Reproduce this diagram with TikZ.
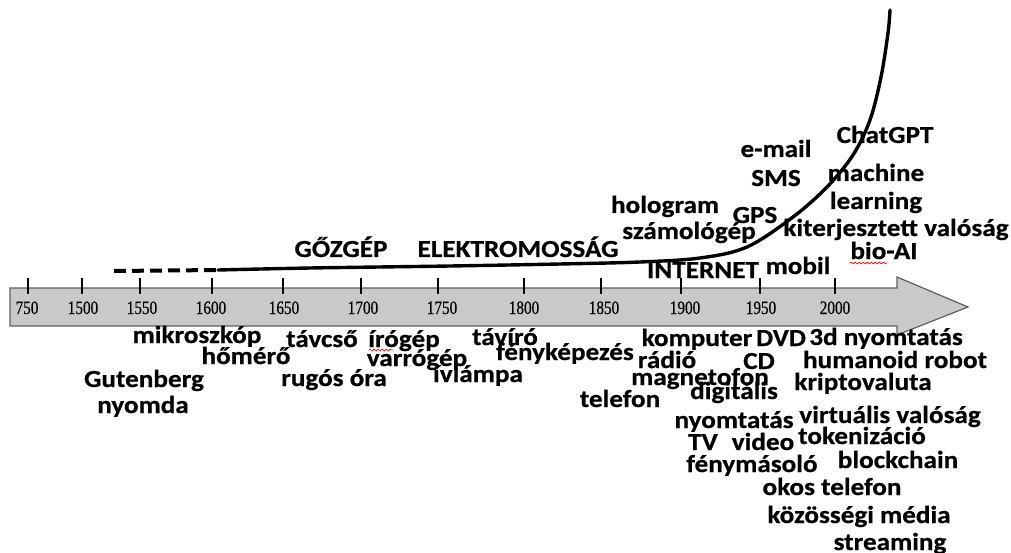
\documentclass[tikz,border=0pt]{standalone}
\usepackage{fontspec}
\setmainfont{Carlito}[FakeStretch=1.11, BoldFeatures={FakeBold=0.6}]
\newfontfamily\yrfont{Liberation Serif}[FakeStretch=0.8, FakeBold=0.4]
\usetikzlibrary{decorations.pathmorphing}
\definecolor{bodygray}{RGB}{201,201,201}
\definecolor{edgegray}{RGB}{95,95,95}
\tikzset{
  lbl/.style={font=\bfseries\fontsize{24.5}{25}\selectfont, inner sep=0pt, anchor=base},
  yr/.style={font=\yrfont\fontsize{19}{20}\selectfont, inner sep=0pt, anchor=base},
  tickmark/.style={line width=2pt},
  growth/.style={line width=3.4pt},
  squiggle/.style={red, line width=0.7pt, decorate, decoration={snake, amplitude=0.9pt, segment length=4pt}}
}
\begin{document}
\begin{tikzpicture}[x=1pt,y=-1pt]
\useasboundingbox (0,0) rectangle (1011,553);
% timeline arrow
\draw[fill=bodygray, draw=edgegray, line width=1.2pt, line join=miter]
  (10,288) -- (897,288) -- (897,277) -- (968,307) -- (897,335) -- (897,326) -- (10,326) -- cycle;
% ticks
\foreach \tx in {28,82,140,212,283,361,438,524,601,681,760,835}
  \draw[tickmark] (\tx,278) -- (\tx,294);
% years
\foreach \lx/\yy in {27/750,83/1500,142/1550,211/1600,284/1650,363/1700,442/1750,524/1800,604/1850,685/1900,761/1950,835/2000}
  \node[yr] (y\yy) at (\lx,314) {\yy};
% growth curve
\draw[line width=4pt, dash pattern=on 12pt off 6pt] (114,271) -- (218,270);
\draw[growth, line cap=round] plot[smooth, tension=0.55] coordinates {
  (218,270) (310,268) (450,266) (560,264) (640,262) (700,258) (747,247)
  (793,217) (827,187) (853,155) (870,120) (881,77) (888,33) (890,10)};
% upper labels
\node[lbl] (gozgep) at (341,257) {GŐZGÉP};
\node[lbl] (elektro) at (518,257) {ELEKTROMOSSÁG};
\node[lbl] (hologram) at (665,213) {hologram};
\node[lbl] (szamologep) at (689,239) {számológép};
\node[lbl] (gps) at (755,223) {GPS};
\node[lbl] (email) at (776,157) {e-mail};
\node[lbl] (sms) at (776,186) {SMS};
\node[lbl] (chatgpt) at (885,143) {ChatGPT};
\node[lbl] (machine) at (876,181) {machine};
\node[lbl] (learning) at (876,209) {learning};
\node[lbl] (kiterj) at (896,236) {kiterjesztett valóság};
\node[lbl] (bioai) at (884,259) {bio-AI};
\node[lbl] (internet) at (703,278) {INTERNET};
\node[lbl] (mobil) at (798,274) {mobil};
% lower labels
\node[lbl] (mikroszkop) at (197,343) {mikroszkóp};
\node[lbl] (tavcso) at (322,347) {távcső};
\node[lbl] (irogep) at (404,347) {írógép};
\node[lbl] (taviro) at (505,345) {távíró};
\node[lbl] (homero) at (246,364) {hőmérő};
\node[lbl] (varrogep) at (417,366) {varrógép};
\node[lbl] (fenykep) at (565,360) {fényképezés};
\node[lbl] (gutenberg) at (144,387) {Gutenberg};
\node[lbl] (rugos) at (334,386) {rugós óra};
\node[lbl] (ivlampa) at (478,382) {ívlámpa};
\node[lbl] (nyomda) at (143,413) {nyomda};
\node[lbl] (komputer) at (697,346) {komputer};
\node[lbl] (dvd) at (781,346) {DVD};
\node[lbl] (nyomt3d) at (886,345) {3d nyomtatás};
\node[lbl] (radio) at (667,368) {rádió};
\node[lbl] (cd) at (759,369) {CD};
\node[lbl] (humanoid) at (895,368) {humanoid robot};
\node[lbl] (magneto) at (700,385) {magnetofon};
\node[lbl] (digitalis) at (734,399) {digitális};
\node[lbl] (kripto) at (863,390) {kriptovaluta};
\node[lbl] (telefon) at (620,407) {telefon};
\node[lbl] (virtualis) at (890,423) {virtuális valóság};
\node[lbl] (nyomtatas) at (734,428) {nyomtatás};
\node[lbl] (tv) at (703,450) {TV};
\node[lbl] (video) at (763,450) {video};
\node[lbl] (tokeniz) at (862,444) {tokenizáció};
\node[lbl] (fenymas) at (752,472) {fénymásoló};
\node[lbl] (blockchain) at (898,468) {blockchain};
\node[lbl] (okos) at (832,495) {okos telefon};
\node[lbl] (kozossegi) at (859,523) {közösségi média};
\node[lbl] (streaming) at (890,550) {streaming};
% spell-check squiggles
\draw[squiggle] (369,350) -- (393,350);
\draw[squiggle] (850,263) -- (887,263);
\end{tikzpicture}
\end{document}
